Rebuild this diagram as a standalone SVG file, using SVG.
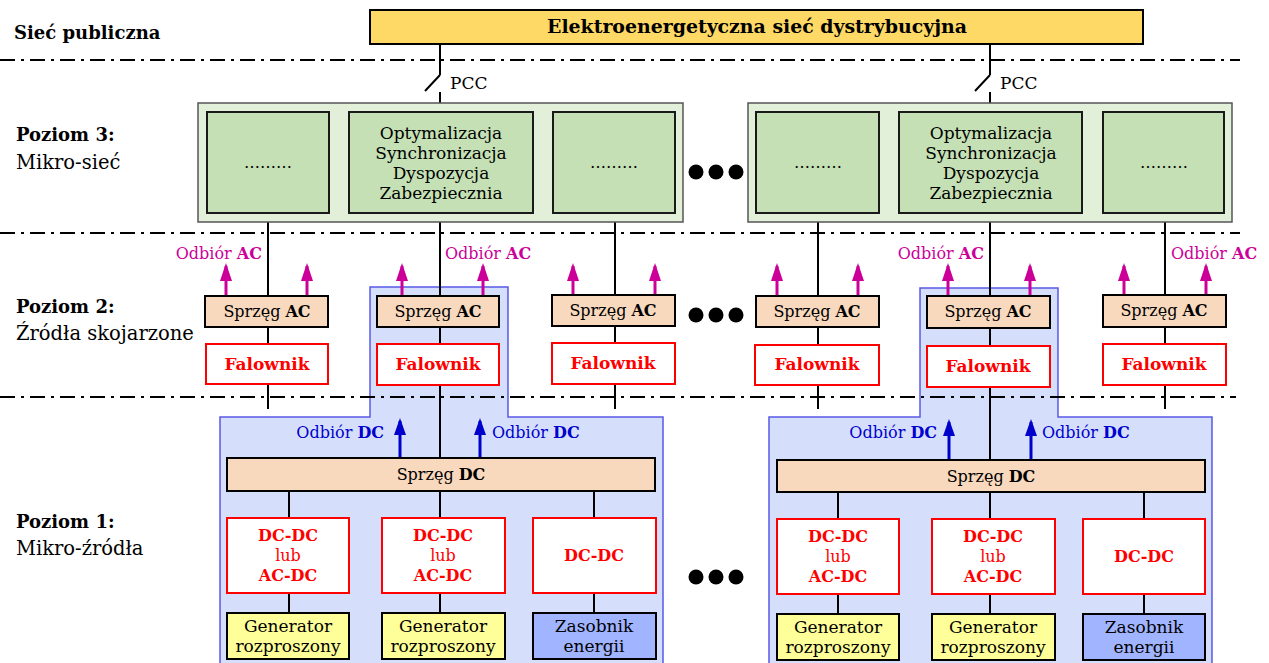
<svg xmlns="http://www.w3.org/2000/svg" width="1269" height="663" viewBox="0 0 1269 663">
<defs>
<style>
text{font-family:"DejaVu Serif","Liberation Serif",serif;fill:#000}
.b{font-weight:bold}
.lvl{font-size:18px;font-weight:bold}
.lvs{font-size:19.5px}
.box{stroke:#000;stroke-width:2}
.gin{fill:#C5E0B4;stroke:#1a1a1a;stroke-width:2}
.gout{fill:#E2F0D9;stroke:#555;stroke-width:1.5}
.peach{fill:#F9D9BE;stroke:#000;stroke-width:2}
.red{fill:#fff;stroke:#FF0000;stroke-width:2}
.gen{fill:#FFFF99;stroke:#000;stroke-width:2}
.sto{fill:#A0B4FF;stroke:#000;stroke-width:2}
.blue{fill:#D5DFFC;stroke:#5A5AE6;stroke-width:1.5}
.rt{fill:#FF0000;font-weight:bold;font-size:16px;text-anchor:middle}
.fw{fill:#FF0000;font-weight:bold;font-size:17px;text-anchor:middle}
.rl{fill:#FF0000;font-size:16px;text-anchor:middle}
.t16{font-size:16px;text-anchor:middle}
.t17{font-size:17px;text-anchor:middle}
.mag{fill:#CC0099;font-size:16px}
.dct{fill:#0000CC;font-size:16px}
.pcc{font-size:17px}
.ln{stroke:#000;stroke-width:2;fill:none}
.dd{stroke:#000;stroke-width:2;stroke-dasharray:15 6 3 6;fill:none}
.am{stroke:#CC0099;stroke-width:3;marker-end:url(#ahM)}
.ad{stroke:#0000CC;stroke-width:3;marker-end:url(#ahD)}
</style>
<marker id="ahM" viewBox="0 0 18 12" refX="15" refY="6" markerWidth="18" markerHeight="12" markerUnits="userSpaceOnUse" orient="auto"><path d="M0,0 L18,6 L0,12 z" fill="#CC0099"/></marker>
<marker id="ahD" viewBox="0 0 17 12" refX="14" refY="6" markerWidth="17" markerHeight="12" markerUnits="userSpaceOnUse" orient="auto"><path d="M0,0 L17,6 L0,12 z" fill="#0000CC"/></marker>
</defs>
<rect width="1269" height="663" fill="#fff"/>

<!-- blue regions (background) -->
<g id="region-left"><path class="blue" d="M370,287 H508 V417 H663 V670 H220 V417 H370 Z"/></g>
<g id="region-right"><path class="blue" d="M920,288 H1058 V417 H1212 V670 H769 V417 H920 Z"/></g>

<!-- level separators -->
<g id="separators">
<line class="dd" x1="0" y1="60" x2="1240" y2="60"/>
<line class="dd" x1="0" y1="233" x2="1240" y2="233"/>
<line class="dd" x1="0" y1="397" x2="1236" y2="397"/>
</g>

<!-- level labels -->
<g id="labels">
<text class="lvl" x="14" y="39">Sieć publiczna</text>
<text class="lvl" x="16" y="141">Poziom 3:</text>
<text class="lvs" x="16" y="169">Mikro-sieć</text>
<text class="lvl" x="16" y="313">Poziom 2:</text>
<text class="lvs" x="16" y="340">Źródła skojarzone</text>
<text class="lvl" x="16" y="528">Poziom 1:</text>
<text class="lvs" x="16" y="555">Mikro-źródła</text>
</g>

<!-- connectors -->
<g id="connectors">
<!-- PCC left -->
<path class="ln" d="M440,44 V75 M440,75 L425,91 M440,92 V112"/>
<!-- PCC right -->
<path class="ln" d="M990,44 V75 M990,75 L975,91 M990,92 V112"/>
<!-- left group -->
<path class="ln" d="M268,213 V296 M268,327 V344 M268,384 V409"/>
<path class="ln" d="M440,213 V296 M440,327 V344 M440,385 V458 M440,491 V518 M440,593 V613"/>
<path class="ln" d="M615,213 V295 M615,326 V343 M615,384 V409"/>
<path class="ln" d="M289,491 V518 M289,593 V613 M594,491 V518 M594,593 V613"/>
<!-- right group -->
<path class="ln" d="M818,213 V296 M818,327 V345 M818,385 V409"/>
<path class="ln" d="M990,213 V296 M990,328 V346 M990,387 V460 M990,492 V519 M990,594 V614"/>
<path class="ln" d="M1165,213 V295 M1165,327 V344 M1165,385 V409"/>
<path class="ln" d="M838,492 V519 M838,594 V614 M1144,492 V519 M1144,594 V614"/>
<!-- AC load arrows -->
<line class="am" x1="226" y1="296" x2="226" y2="266"/>
<line class="am" x1="307" y1="296" x2="307" y2="266"/>
<line class="am" x1="402" y1="296" x2="402" y2="266"/>
<line class="am" x1="483" y1="296" x2="483" y2="266"/>
<line class="am" x1="573" y1="295" x2="573" y2="266"/>
<line class="am" x1="655" y1="295" x2="655" y2="266"/>
<line class="am" x1="777" y1="296" x2="777" y2="266"/>
<line class="am" x1="858" y1="296" x2="858" y2="266"/>
<line class="am" x1="948" y1="296" x2="948" y2="266"/>
<line class="am" x1="1030" y1="296" x2="1030" y2="266"/>
<line class="am" x1="1124" y1="295" x2="1124" y2="266"/>
<line class="am" x1="1206" y1="295" x2="1206" y2="266"/>
<!-- DC load arrows -->
<line class="ad" x1="400" y1="458" x2="400" y2="421"/>
<line class="ad" x1="480" y1="458" x2="480" y2="421"/>
<line class="ad" x1="949" y1="460" x2="949" y2="422"/>
<line class="ad" x1="1031" y1="460" x2="1031" y2="422"/>
</g>

<!-- arrow labels -->
<g id="load-labels">
<text class="mag" x="262" y="259" text-anchor="end">Odbiór <tspan class="b">AC</tspan></text>
<text class="mag" x="445" y="259">Odbiór <tspan class="b">AC</tspan></text>
<text class="mag" x="984" y="259" text-anchor="end">Odbiór <tspan class="b">AC</tspan></text>
<text class="mag" x="1171" y="259">Odbiór <tspan class="b">AC</tspan></text>
<text class="dct" x="384" y="438" text-anchor="end">Odbiór <tspan class="b">DC</tspan></text>
<text class="dct" x="492" y="438">Odbiór <tspan class="b">DC</tspan></text>
<text class="dct" x="937" y="438" text-anchor="end">Odbiór <tspan class="b">DC</tspan></text>
<text class="dct" x="1042" y="438">Odbiór <tspan class="b">DC</tspan></text>
<text class="pcc" x="450" y="89">PCC</text>
<text class="pcc" x="1000" y="89">PCC</text>
</g>

<!-- public grid -->
<g id="grid"><rect x="370" y="10" width="773" height="34" fill="#FFD966" class="box"/>
<text x="757" y="33" text-anchor="middle" class="b" style="font-size:18px" textLength="420" lengthAdjust="spacingAndGlyphs">Elektroenergetyczna sieć dystrybucyjna</text></g>

<!-- level 3 -->
<g id="l3-left"><rect class="gout" x="198" y="103" width="485" height="119"/></g>
<g id="l3-left-a"><rect class="gin" x="207" y="112" width="122" height="101"/><text class="t16" x="268" y="168">………</text></g>
<g id="l3-left-b"><rect class="gin" x="349" y="112" width="184" height="101"/>
<text class="t17" x="441" y="139">Optymalizacja</text><text class="t17" x="441" y="159">Synchronizacja</text><text class="t17" x="441" y="179">Dyspozycja</text><text class="t17" x="441" y="199">Zabezpiecznia</text></g>
<g id="l3-left-c"><rect class="gin" x="553" y="112" width="122" height="101"/><text class="t16" x="614" y="168">………</text></g>

<g id="l3-right"><rect class="gout" x="748" y="103" width="484" height="119"/></g>
<g id="l3-right-a"><rect class="gin" x="756" y="112" width="123" height="101"/><text class="t16" x="818" y="168">………</text></g>
<g id="l3-right-b"><rect class="gin" x="899" y="112" width="183" height="101"/>
<text class="t17" x="991" y="139">Optymalizacja</text><text class="t17" x="991" y="159">Synchronizacja</text><text class="t17" x="991" y="179">Dyspozycja</text><text class="t17" x="991" y="199">Zabezpiecznia</text></g>
<g id="l3-right-c"><rect class="gin" x="1103" y="112" width="121" height="101"/><text class="t16" x="1164" y="168">………</text></g>

<!-- level 2 -->
<g id="ac-l1"><rect class="peach" x="205" y="296" width="123" height="31"/><text class="t16" x="267" y="317">Sprzęg <tspan class="b">AC</tspan></text></g>
<g id="inv-l1"><rect class="red" x="206" y="344" width="122" height="40"/><text class="fw" x="267" y="370">Falownik</text></g>
<g id="ac-l2"><rect class="peach" x="377" y="296" width="122" height="31"/><text class="t16" x="438" y="317">Sprzęg <tspan class="b">AC</tspan></text></g>
<g id="inv-l2"><rect class="red" x="377" y="344" width="122" height="41"/><text class="fw" x="438" y="370">Falownik</text></g>
<g id="ac-l3"><rect class="peach" x="552" y="295" width="123" height="31"/><text class="t16" x="613" y="316">Sprzęg <tspan class="b">AC</tspan></text></g>
<g id="inv-l3"><rect class="red" x="552" y="343" width="123" height="41"/><text class="fw" x="613" y="369">Falownik</text></g>

<g id="ac-r1"><rect class="peach" x="756" y="296" width="123" height="31"/><text class="t16" x="817" y="317">Sprzęg <tspan class="b">AC</tspan></text></g>
<g id="inv-r1"><rect class="red" x="755" y="345" width="124" height="40"/><text class="fw" x="817" y="370">Falownik</text></g>
<g id="ac-r2"><rect class="peach" x="927" y="296" width="123" height="32"/><text class="t16" x="988" y="317">Sprzęg <tspan class="b">AC</tspan></text></g>
<g id="inv-r2"><rect class="red" x="927" y="346" width="123" height="41"/><text class="fw" x="988" y="372">Falownik</text></g>
<g id="ac-r3"><rect class="peach" x="1103" y="295" width="123" height="32"/><text class="t16" x="1164" y="316">Sprzęg <tspan class="b">AC</tspan></text></g>
<g id="inv-r3"><rect class="red" x="1103" y="344" width="123" height="41"/><text class="fw" x="1164" y="370">Falownik</text></g>

<!-- level 1 left -->
<g id="dc-left"><rect class="peach" x="227" y="458" width="428" height="33"/><text class="t16" x="441" y="480">Sprzęg <tspan class="b">DC</tspan></text></g>
<g id="conv-l1"><rect class="red" x="227" y="518" width="122" height="75"/><text class="rt" x="288" y="541">DC-DC</text><text class="rl" x="288" y="561">lub</text><text class="rt" x="288" y="581">AC-DC</text></g>
<g id="conv-l2"><rect class="red" x="382" y="518" width="123" height="75"/><text class="rt" x="443" y="541">DC-DC</text><text class="rl" x="443" y="561">lub</text><text class="rt" x="443" y="581">AC-DC</text></g>
<g id="conv-l3"><rect class="red" x="533" y="518" width="123" height="75"/><text class="rt" x="594" y="561">DC-DC</text></g>
<g id="gen-l1"><rect class="gen" x="227" y="613" width="122" height="46"/><text class="t17" x="288" y="632">Generator</text><text class="t17" x="288" y="652">rozproszony</text></g>
<g id="gen-l2"><rect class="gen" x="382" y="613" width="123" height="46"/><text class="t17" x="443" y="632">Generator</text><text class="t17" x="443" y="652">rozproszony</text></g>
<g id="sto-l"><rect class="sto" x="533" y="613" width="123" height="46"/><text class="t17" x="594" y="632">Zasobnik</text><text class="t17" x="594" y="652">energii</text></g>

<!-- level 1 right -->
<g id="dc-right"><rect class="peach" x="777" y="460" width="428" height="32"/><text class="t16" x="991" y="482">Sprzęg <tspan class="b">DC</tspan></text></g>
<g id="conv-r1"><rect class="red" x="777" y="519" width="122" height="75"/><text class="rt" x="838" y="542">DC-DC</text><text class="rl" x="838" y="562">lub</text><text class="rt" x="838" y="582">AC-DC</text></g>
<g id="conv-r2"><rect class="red" x="932" y="519" width="123" height="75"/><text class="rt" x="993" y="542">DC-DC</text><text class="rl" x="993" y="562">lub</text><text class="rt" x="993" y="582">AC-DC</text></g>
<g id="conv-r3"><rect class="red" x="1083" y="519" width="122" height="75"/><text class="rt" x="1144" y="562">DC-DC</text></g>
<g id="gen-r1"><rect class="gen" x="777" y="614" width="122" height="46"/><text class="t17" x="838" y="633">Generator</text><text class="t17" x="838" y="653">rozproszony</text></g>
<g id="gen-r2"><rect class="gen" x="932" y="614" width="123" height="46"/><text class="t17" x="993" y="633">Generator</text><text class="t17" x="993" y="653">rozproszony</text></g>
<g id="sto-r"><rect class="sto" x="1083" y="614" width="122" height="46"/><text class="t17" x="1144" y="633">Zasobnik</text><text class="t17" x="1144" y="653">energii</text></g>

<!-- ellipsis dots -->
<g id="dots" fill="#000">
<circle cx="696" cy="172" r="7.5"/><circle cx="716" cy="172" r="7.5"/><circle cx="736" cy="172" r="7.5"/>
<circle cx="696" cy="315" r="7.5"/><circle cx="716" cy="315" r="7.5"/><circle cx="736" cy="315" r="7.5"/>
<circle cx="696" cy="577" r="7.5"/><circle cx="716" cy="577" r="7.5"/><circle cx="736" cy="577" r="7.5"/>
</g>
</svg>
